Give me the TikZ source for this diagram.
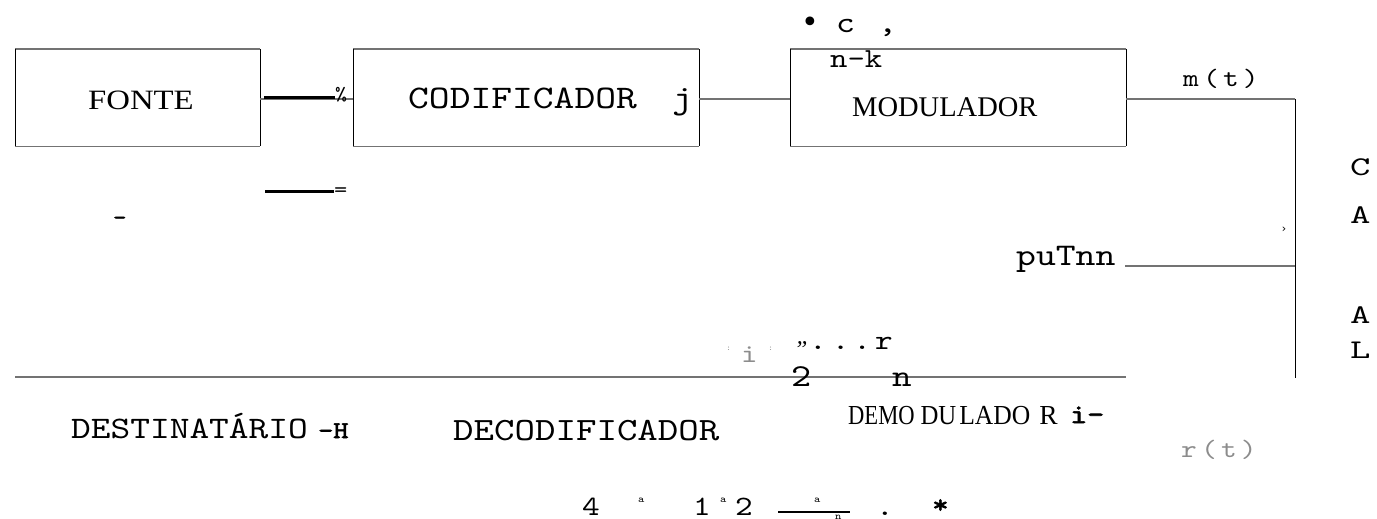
\documentclass[tikz,border=0pt]{standalone}
\usepackage{fontspec}
\usepackage{graphicx}
\setmainfont{Liberation Serif}
\newfontfamily\mono{lmmono10-regular.otf}[FakeStretch=1.2]
\newfontfamily\monob{lmmono10-regular.otf}[FakeStretch=1.2,FakeBold=2.5]
\newfontfamily\djv{DejaVu Sans}
\newcommand\fsz[1]{\fontsize{#1}{#1}\selectfont}
\begin{document}
\begin{tikzpicture}[x=1pt,y=-1pt,
  blockbox/.style={draw=none,inner sep=0,anchor=north west,minimum height=97},
  hline/.style={draw=black!55,line width=1.3pt},
  vline/.style={draw=black,line width=0.9pt},
  thick bar/.style={draw=black,line width=3pt},
  lbl/.style={inner sep=0,anchor=base west},
  faint/.style={text=black!45}]
\useasboundingbox (0,0) rectangle (1377,519);

% blocks
\node[blockbox,minimum width=245] (fonte) at (15,49) {};
\node[blockbox,minimum width=346] (cod)   at (353,49) {};
\node[blockbox,minimum width=336] (mod)   at (790,49) {};
\foreach \b in {fonte,cod,mod}{
  \draw[hline] (\b.north west) -- (\b.north east) (\b.south west) -- (\b.south east);
  \draw[vline] (\b.north west) -- (\b.south west) (\b.north east) -- (\b.south east);
}

% block labels
\node[lbl] (tfonte) at (88,110) {\scalebox{1.17}[1]{\fsz{28}FONTE}};
\node[lbl] (tcod) at (408,108) {\mono\fsz{33}CODIFICADOR};
\node[lbl] (tj) at (672,108) {\mono\fsz{33}j};
\node[lbl] (tmod) at (852,117) {\fsz{28.5}MODULADOR};

% marks above the modulator
\node[inner sep=0] (bul) at (810,25) {\djv\fsz{30}•};
\node[lbl] (tc) at (836,33) {\mono\fsz{30}c};
\node[lbl] (tcomma) at (878,33) {\mono\fsz{30},};
\node[lbl] (tnk) at (830,68) {\mono\fsz{27.5}n-k};

% connectors between the blocks
\coordinate (fa) at (fonte.east |- 0,99);
\coordinate (cb) at (cod.west |- 0,99);
\coordinate (ce) at (cod.east |- 0,99);
\coordinate (mb) at (mod.west |- 0,99);
\coordinate (me) at (mod.east |- 0,99);
\draw[hline] (fa) -- (cb);
\draw[hline] (ce) -- (mb);
\node[lbl] (tpct) at (335,100) {\mono\fsz{19}\%};
\draw[thick bar] (264,98) coordinate (bar1) -- (tpct.west |- 0,98);

% channel
\coordinate (corner) at (1295,99);
\coordinate (chend) at (1295,378);
\coordinate (tap) at (1295,266);
\draw[hline] (me) -- (corner);
\draw[vline] (corner) -- (chend);
\node[lbl] (tmt) at (1183,87) {\mono\fsz{25}m\,(\,t\,)};
\node[lbl] (tC) at (1350,175) {\scalebox{1.2}[1]{\mono\fsz{27}C}};
\node[lbl] (tA1) at (1350,223) {\scalebox{1.2}[1]{\mono\fsz{27}A}};
\node[lbl] (tA2) at (1350,323) {\scalebox{1.2}[1]{\mono\fsz{27}A}};
\node[lbl] (tL) at (1350,358) {\scalebox{1.2}[1]{\mono\fsz{27}L}};
\node[inner sep=0] (tgt) at (1284,230) {\djv\fsz{11}›};
\node[lbl] (tpu) at (1016,265) {\mono\fsz{31.5}puTnn};
\coordinate (pu) at (1125,266);
\draw[hline] (pu) -- (tap);

% second bar and stray marks
\node[lbl] (teq) at (334,196) {\mono\fsz{21}=};
\draw[thick bar] (265,191) coordinate (bar2) -- (teq.west |- 0,191);
\node[lbl] (tdash) at (113,224) {\monob\fsz{21}-};

% lower row
\coordinate (lowL) at (15,377);
\coordinate (lowR) at (1126,377);
\draw[hline] (lowL) -- (lowR);
\node[lbl] (tdest) at (71,438) {\mono\fsz{31.3}DESTINATÁRIO};
\node[lbl] (tH) at (318,438) {\monob\fsz{24}-H};
\node[lbl] (tdec) at (453,440) {\mono\fsz{32.5}DECODIFICADOR};
\node[lbl] (tdem) at (848,424) {\fsz{27.5}\scalebox{0.82}[1]{DEMO}\hspace{6pt}\scalebox{0.9}[1]{DU}\hspace{3pt}\scalebox{0.93}[1]{LADO}\hspace{9pt}R};
\node[lbl] (ti) at (1070,423) {\monob\fsz{27}i-};
\node[lbl,faint] (trt) at (1181,457) {\mono\fsz{25}r\,(\,t\,)};

% small marks over the lower line
\node[lbl,faint] (tk1) at (726,350) {\mono\fsz{8}:};
\node[lbl,faint] (tk2) at (741,362) {\mono\fsz{26}i};
\node[lbl,faint] (tk3) at (768,350) {\mono\fsz{8}:};
\node[lbl] (tq) at (794,357) {\fsz{24}\textit{”}};
\node[lbl] (tdots) at (809,349) {\mono\fsz{28}.\kern5pt.\kern4pt.\kern4pt r};
\node[lbl] (t2) at (791,386) {\mono\fsz{32}2};
\node[lbl] (tn) at (892,386) {\mono\fsz{31}n};

% bottom line of marks
\node[lbl] (b4) at (582,515) {\mono\fsz{28}4};
\node[lbl] (ba1) at (638,502) {\mono\fsz{10}a};
\node[lbl] (b1) at (693,515) {\mono\fsz{28}1};
\node[lbl] (ba2) at (720,502) {\mono\fsz{10}a};
\node[lbl] (b2) at (735,515) {\mono\fsz{28}2};
\coordinate (fr1) at (778,512);
\coordinate (fr2) at (850,512);
\draw[draw=black,line width=2pt] (fr1) -- (fr2);
\node[lbl] (ba3) at (814,502) {\mono\fsz{10}a};
\node[lbl] (bn) at (835,519) {\mono\fsz{10}n};
\node[lbl] (bdot) at (876,515) {\mono\fsz{28}.};
\node[lbl] (bstar) at (932,513) {\monob\fsz{26}*};
\end{tikzpicture}
\end{document}
